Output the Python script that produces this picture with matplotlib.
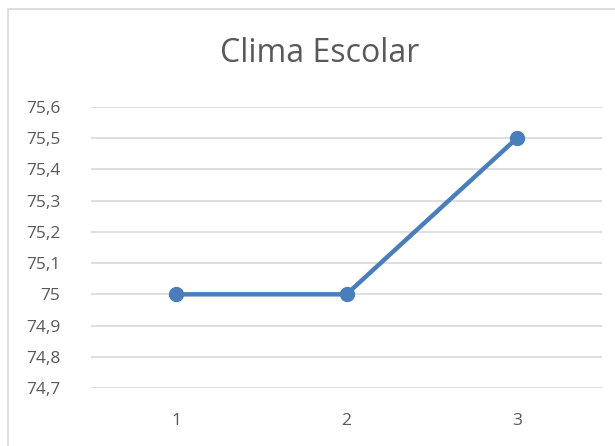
import matplotlib
matplotlib.use("Agg")
import matplotlib.pyplot as plt
from matplotlib.ticker import FuncFormatter, MultipleLocator
from matplotlib.patches import Rectangle

# dados
categorias = [1, 2, 3]
valores = [75.0, 75.0, 75.5]
titulo = "Clima Escolar"

plt.rcParams['font.family'] = ['Open Sans', 'DejaVu Sans']

fig = plt.figure(figsize=(6.15, 4.46), dpi=100)

# borda do gráfico (estilo Excel)
fig.patches.append(Rectangle((8 / 615, -0.1), 1.2, 1 - 9 / 446 + 0.1,
                             transform=fig.transFigure, fill=False,
                             edgecolor='#d9d9d9', linewidth=1.2))

ax = fig.add_axes([91 / 615, 58 / 446, 511 / 615, 281 / 446])

x = list(range(len(categorias)))
ax.plot(x, valores, color='#4A7EBB', linewidth=3.2, marker='o',
        markersize=10, markerfacecolor='#4A7EBB', markeredgecolor='#4A7EBB')

ax.set_xlim(-0.5, len(categorias) - 0.5)
ax.set_ylim(74.7, 75.6)
ax.yaxis.set_major_locator(MultipleLocator(0.1))


def fmt(v, pos):
    s = f"{v:.1f}".replace('.', ',')
    if s.endswith(',0'):
        s = s[:-2]
    return s


ax.yaxis.set_major_formatter(FuncFormatter(fmt))
ax.set_xticks(x)
ax.set_xticklabels([str(c) for c in categorias])

ax.grid(True, axis='y', color='#d9d9d9', linewidth=1.2)
ax.set_axisbelow(True)
for s in ax.spines.values():
    s.set_visible(False)
ax.tick_params(length=0, labelsize=12.5, labelcolor='#595959')
ax.tick_params(axis='y', pad=22)
ax.tick_params(axis='x', pad=18)

fig.text(320 / 615, 1 - 53 / 446, titulo, ha='center', va='center',
         fontsize=23, color='#595959')

fig.savefig("out.png", dpi=100)
